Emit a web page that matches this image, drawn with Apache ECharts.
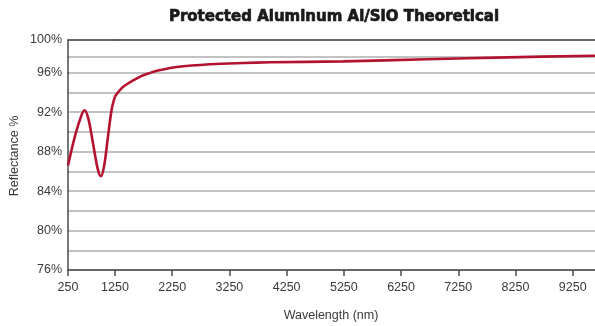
<!DOCTYPE html>
<html>
<head>
<meta charset="utf-8">
<script src="https://cdn.jsdelivr.net/npm/echarts@6/dist/echarts.min.js"></script>
<style>
  html, body { margin: 0; padding: 0; background: #fff; }
  #chart { width: 595px; height: 326px; }
</style>
</head>
<body>
<div id="chart"></div>
<script>
// Reflectance curve of protected aluminium (Al/SiO), theoretical
const wavelengthNm = [250, 400, 530, 600, 680, 780, 880, 950, 1020, 1100, 1180, 1250,
                      1400, 1690, 1870, 2040, 2330, 2910, 3490, 3960, 5240, 6700, 8120, 9640];
const reflectancePct = [86.6, 89.6, 91.6, 92.2, 91.4, 88.9, 86.3, 85.5, 86.6, 89.5, 92.3, 93.6,
                        94.6, 95.6, 96.0, 96.33, 96.7, 97.03, 97.19, 97.27, 97.38, 97.65, 97.88, 98.08];

// Axis tick labels
const xTickValues = [250, 1250, 2250, 3250, 4250, 5250, 6250, 7250, 8250, 9250];
const yTickValues = [76, 80, 84, 88, 92, 96, 100];

// Axis breaks: the wavelength axis is split at 1250 nm, reflectance at 96 %
const xBreak = 1250;
const yBreak = 96;
const xMin = 250, xMax = 9640;
const yMin = 76, yMax = 100;

const titleText = 'Protected Aluminum Al/SiO Theoretical';
const xTitle = 'Wavelength (nm)';
const yTitle = 'Reflectance %';

const LINE_RED = '#b3132f';
const AXIS_DARK = '#4a4a4a';
const GRID_GRAY = '#c2c2c2';
const LABEL_FONT = '"Liberation Sans", Arial, sans-serif';
const LABEL_SIZE = 12.5;

// points of the curve that fall inside one panel (boundary points shared)
function segment(x0, x1, y0, y1) {
  const pts = [];
  for (let i = 0; i < wavelengthNm.length; i++) {
    const x = wavelengthNm[i], y = reflectancePct[i];
    if (x >= x0 && x <= x1 && y >= y0 && y <= y1) pts.push([x, y]);
  }
  return pts;
}

const plotLeft = 68, plotRightEdge = 595, xBreakPx = 115;
const plotTop = 40, yBreakPx = 72.7, plotBottom = 270;

const grids = [
  { left: plotLeft, width: xBreakPx - plotLeft, top: yBreakPx, height: plotBottom - yBreakPx },            // 0: left, lower
  { left: plotLeft, width: xBreakPx - plotLeft, top: plotTop, height: yBreakPx - plotTop },                // 1: left, upper
  { left: xBreakPx, width: plotRightEdge - xBreakPx, top: yBreakPx, height: plotBottom - yBreakPx },      // 2: right, lower
  { left: xBreakPx, width: plotRightEdge - xBreakPx, top: plotTop, height: yBreakPx - plotTop }           // 3: right, upper
];

const labelStyle = { color: '#3a3a3a', fontSize: LABEL_SIZE, fontFamily: LABEL_FONT };

function xAxis(gridIndex, lo, hi, bottom) {
  const ticks = xTickValues.filter(v => v >= lo && v <= hi && (lo === xMin || v > lo));
  return {
    type: 'value', gridIndex, min: lo, max: hi,
    position: bottom ? 'bottom' : 'top',
    axisLine: { show: true, onZero: false, lineStyle: { color: AXIS_DARK, width: 1.5 } },
    axisTick: { show: bottom, length: 6, inside: false, customValues: ticks,
                lineStyle: { color: AXIS_DARK, width: 1.5 } },
    axisLabel: { show: bottom, customValues: ticks, margin: 11, ...labelStyle,
                 formatter: v => String(v) },
    splitLine: { show: false }
  };
}

function yAxis(gridIndex, lo, hi, left) {
  return {
    type: 'value', gridIndex, min: lo, max: hi, interval: 2,
    axisLine: { show: left, lineStyle: { color: AXIS_DARK, width: 1.5 } },
    axisTick: { show: false },
    axisLabel: {
      show: left, margin: 6, ...labelStyle,
      formatter: v => (yTickValues.includes(v) && !(lo === yBreak && v === yBreak)) ? v + '%' : ''
    },
    splitLine: { show: true, lineStyle: { color: GRID_GRAY, width: 2 } }
  };
}

const chart = echarts.init(document.getElementById('chart'), null, { renderer: 'canvas' });

const lineSeries = (idx, pts) => ({
  type: 'line', xAxisIndex: idx, yAxisIndex: idx, data: pts,
  smooth: 0.35, showSymbol: false, symbol: 'none', clip: true,
  lineStyle: { color: LINE_RED, width: 2.6 }, z: 5
});

chart.setOption({
  animation: false,
  backgroundColor: '#fff',
  grid: grids,
  xAxis: [
    xAxis(0, xMin, xBreak, true),
    xAxis(1, xMin, xBreak, false),
    xAxis(2, xBreak, xMax, true),
    xAxis(3, xBreak, xMax, false)
  ],
  yAxis: [
    yAxis(0, yMin, yBreak, true),
    yAxis(1, yBreak, yMax, true),
    yAxis(2, yMin, yBreak, false),
    yAxis(3, yBreak, yMax, false)
  ],
  series: [
    lineSeries(0, segment(xMin, xBreak, yMin, yBreak)),
    lineSeries(1, segment(xMin, xBreak, yBreak, yMax)),
    lineSeries(2, segment(xBreak, xMax, yMin, yBreak)),
    lineSeries(3, segment(xBreak, xMax, yBreak, yMax))
  ],
  graphic: [
    { type: 'text', x: 334, y: 17, style: {
        text: titleText, fill: '#1a1a1a', stroke: '#1a1a1a', lineWidth: 0.7,
        align: 'center', verticalAlign: 'middle',
        font: 'bold 15px "DejaVu Sans", "Liberation Sans", Arial, sans-serif' } },
    { type: 'text', x: 331, y: 316, style: {
        text: xTitle, fill: '#3a3a3a', align: 'center', verticalAlign: 'middle',
        font: LABEL_SIZE + 'px ' + LABEL_FONT } },
    { type: 'text', x: 15, y: 156, rotation: Math.PI / 2, style: {
        text: yTitle, fill: '#3a3a3a', align: 'center', verticalAlign: 'middle',
        font: LABEL_SIZE + 'px ' + LABEL_FONT } }
  ]
});
</script>
</body>
</html>
